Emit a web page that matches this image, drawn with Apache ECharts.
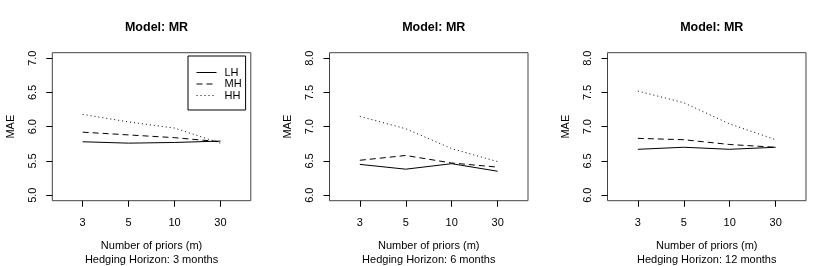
<!DOCTYPE html>
<html><head><meta charset="utf-8">
<script src="https://cdn.jsdelivr.net/npm/echarts@6/dist/echarts.min.js"></script>
<style>html,body{margin:0;padding:0;background:#fff}#c{width:833px;height:266px}</style>
</head><body><div id="c"></div>
<script>
const priors = ["3", "5", "10", "30"];
const horizons = ["3 months", "6 months", "12 months"];
const seriesNames = ["LH", "MH", "HH"];
// values per panel
const lh3 = [5.78, 5.76, 5.77, 5.79];
const mh3 = [5.92, 5.88, 5.84, 5.78];
const hh3 = [6.18, 6.07, 5.98, 5.76];
const lh6 = [6.45, 6.38, 6.46, 6.35];
const mh6 = [6.51, 6.58, 6.47, 6.41];
const hh6 = [7.15, 6.97, 6.68, 6.49];
const lh12 = [6.67, 6.70, 6.67, 6.70];
const mh12 = [6.83, 6.81, 6.74, 6.70];
const hh12 = [7.52, 7.35, 7.04, 6.81];
const yTicks1 = [5.0, 5.5, 6.0, 6.5, 7.0];
const yTicks2 = [6.0, 6.5, 7.0, 7.5, 8.0];
const yTicks3 = [6.0, 6.5, 7.0, 7.5, 8.0];

const panels = [
  {vals: [lh3, mh3, hh3], ticks: yTicks1, left: 52.3, title: horizons[0]},
  {vals: [lh6, mh6, hh6], ticks: yTicks2, left: 329.5, title: horizons[1]},
  {vals: [lh12, mh12, hh12], ticks: yTicks3, left: 607.5, title: horizons[2]}
];
const dashTypes = ['solid', [6, 4], [1, 3]];
const font = 'Liberation Sans, Arial, Helvetica, sans-serif';
const pos = priors.map((p, i) => i + 1);

const grid = [], xAxis = [], yAxis = [], series = [], title = [];
panels.forEach((p, k) => {
  const w = 198.5;
  grid.push({left: p.left, top: 52.7, width: w, height: 148, show: true, borderColor: '#444', borderWidth: 1,
    backgroundColor: 'transparent', outerBoundsMode: 'none', containLabel: false});
  title.push({text: 'Model: MR', left: p.left + w / 2, top: 16, textAlign: 'center',
    textStyle: {fontFamily: font, fontSize: 12.5, fontWeight: 'bold', color: '#000'}});
  const lo = p.ticks[0], hi = p.ticks[p.ticks.length - 1], ext = (hi - lo) * 0.04;
  xAxis.push({type: 'value', gridIndex: k, min: 0.34, max: 4.66,
    axisLine: {show: false}, splitLine: {show: false},
    axisTick: {show: true, customValues: pos, length: 6, inside: false, lineStyle: {color: '#000'}},
    axisLabel: {customValues: pos, formatter: v => priors[Math.round(v) - 1], fontFamily: font, fontSize: 11, color: '#000', margin: 17},
    name: 'Number of priors (m)\nHedging Horizon: ' + p.title, nameLocation: 'middle', nameGap: 39,
    nameTextStyle: {fontFamily: font, fontSize: 11, color: '#000', lineHeight: 13.3}
  });
  yAxis.push({type: 'value', gridIndex: k, min: lo - ext, max: hi + ext,
    axisLine: {show: false}, splitLine: {show: false},
    axisTick: {show: true, customValues: p.ticks, length: 6, lineStyle: {color: '#000'}},
    axisLabel: {customValues: p.ticks, rotate: 90, formatter: v => v.toFixed(1), fontFamily: font, fontSize: 11, color: '#000', margin: 14},
    name: 'MAE', nameLocation: 'middle', nameRotate: 90, nameGap: 36,
    nameTextStyle: {fontFamily: font, fontSize: 11, color: '#000'}
  });
  p.vals.forEach((vals, j) => {
    series.push({type: 'line', name: seriesNames[j], xAxisIndex: k, yAxisIndex: k,
      data: vals.map((v, i) => [pos[i], v]), symbol: 'none', showSymbol: false,
      lineStyle: {color: '#000', width: 1, type: dashTypes[j]}, itemStyle: {color: '#000'},
      emphasis: {disabled: true}, animation: false});
  });
});

const chart = echarts.init(document.getElementById('c'), null, {renderer: 'canvas'});
chart.setOption({
  animation: false,
  backgroundColor: '#fff',
  title, grid, xAxis, yAxis, series,
  legend: {data: seriesNames, orient: 'vertical', left: 188, top: 56,
    borderColor: '#000', borderWidth: 1, padding: [11, 4, 9, 8], itemGap: 0.5,
    itemWidth: 20, itemHeight: 11,
    itemStyle: {opacity: 0},
    lineStyle: {width: 1},
    textStyle: {fontFamily: font, fontSize: 11, color: '#000', padding: [0, 0, 0, 3]}, selectedMode: false}
});
</script></body></html>
